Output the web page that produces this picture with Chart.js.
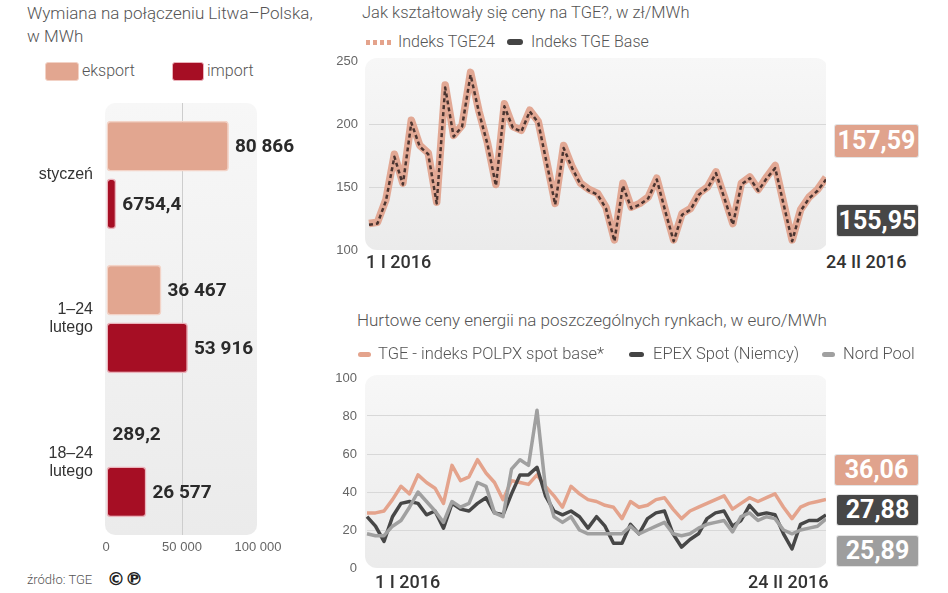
<!DOCTYPE html>
<html lang="pl">
<head>
<meta charset="utf-8">
<script src="https://cdn.jsdelivr.net/npm/chart.js@4.4.1/dist/chart.umd.min.js"></script>
<style>
body{margin:0;background:#fff;font-family:Roboto,"Open Sans",sans-serif;}
#page{position:relative;width:948px;height:593px;overflow:hidden;}
canvas{position:absolute;}
.t{position:absolute;white-space:nowrap;color:#555;font-weight:300;line-height:20px;}
.sw{position:absolute;border-radius:3px;}
.box{position:absolute;color:#fff;font-weight:700;font-size:25px;text-align:center;border-radius:2px;line-height:30px;box-shadow:0 0 0 1px #e4e4e4;}
.day{position:absolute;white-space:nowrap;color:#333;font-weight:500;font-size:18px;line-height:20px;}
</style>
</head>
<body>
<div id="page">
  <!-- left: exchange Lithuania-Poland -->
  <div class="t" style="left:27px;top:3px;font-size:17px">Wymiana na połączeniu Litwa–Polska,</div>
  <div class="t" style="left:27px;top:26px;font-size:17px">w MWh</div>
  <div class="sw" style="left:45px;top:62px;width:32px;height:17px;background:#e2a690;border:1px solid #f2d2c6"></div>
  <div class="t" style="left:82px;top:61px;font-size:16px">eksport</div>
  <div class="sw" style="left:172px;top:62px;width:30px;height:17px;background:#a60e24;border:1px solid #eab2ba"></div>
  <div class="t" style="left:207px;top:61px;font-size:16px">import</div>
  <canvas id="bars" width="310" height="462" style="left:0;top:95px"></canvas>
  <div class="t" style="left:27px;top:570px;font-size:13px">źródło: TGE</div>
  <div class="t" style="left:107px;top:569px;font-size:18px;font-weight:700;color:#222;font-family:'DejaVu Sans'">©℗</div>

  <!-- top right: TGE prices -->
  <div class="t" style="left:362px;top:3px;font-size:16.5px">Jak kształtowały się ceny na TGE?, w zł/MWh</div>
  <div class="sw" style="left:366px;top:40px;width:28px;height:5px;border-radius:0;background:repeating-linear-gradient(90deg,#e4a38c 0 4px,transparent 4px 7px)"></div>
  <div class="t" style="left:398px;top:32px;font-size:16px">Indeks TGE24</div>
  <div class="sw" style="left:507px;top:39px;width:16px;height:6px;background:#444"></div>
  <div class="t" style="left:531px;top:32px;font-size:16px">Indeks TGE Base</div>
  <canvas id="tge" width="496" height="204" style="left:330px;top:50px"></canvas>
  <div class="day" style="left:366px;top:252px">1 I 2016</div>
  <div class="day" style="left:826px;top:252px">24 II 2016</div>
  <div class="box" id="b24" style="left:835px;top:125px;width:83px;height:32px;line-height:32px;background:#e0a38d"></div>
  <div class="box" id="bBase" style="left:837px;top:205px;width:81px;height:31px;line-height:31px;background:#474747"></div>

  <!-- bottom right: wholesale prices -->
  <div class="t" style="left:357px;top:310px;font-size:17px">Hurtowe ceny energii na poszczególnych rynkach, w euro/MWh</div>
  <div class="sw" style="left:358px;top:352px;width:13px;height:5px;background:#e4a38c"></div>
  <div class="t" style="left:378px;top:344px;font-size:16.5px">TGE - indeks POLPX spot base*</div>
  <div class="sw" style="left:629px;top:352px;width:15px;height:5px;background:#444"></div>
  <div class="t" style="left:653px;top:344px;font-size:16.5px">EPEX Spot (Niemcy)</div>
  <div class="sw" style="left:822px;top:352px;width:13px;height:5px;background:#a0a0a0"></div>
  <div class="t" style="left:843px;top:344px;font-size:16.5px">Nord Pool</div>
  <canvas id="euro" width="496" height="211" style="left:330px;top:365px"></canvas>
  <div class="day" style="left:375px;top:572px">1 I 2016</div>
  <div class="day" style="left:748px;top:572px">24 II 2016</div>
  <div class="box" id="bPol" style="left:835px;top:455px;width:83px;height:30px;background:#e0a38d"></div>
  <div class="box" id="bEpex" style="left:837px;top:495px;width:81px;height:30px;background:#474747"></div>
  <div class="box" id="bNord" style="left:837px;top:536px;width:81px;height:30px;background:#9e9e9e"></div>
</div>
<script>
// wymiana Litwa-Polska, MWh
const months = ['styczeń', ['1–24', 'lutego'], ['18–24', 'lutego']];
const eksport = [80866, 36467, 289.2];
const importy = [6754.4, 53916, 26577];
const barTicks = [0, 50000, 100000];

// ceny TGE, zl/MWh, 1 I - 24 II 2016
const tge24 = [121,122,140,176,153,203,183,177,138,231,191,199,241,210,185,152,216,198,195,211,
  202,170,137,183,166,153,148,145,134,108,153,134,137,142,157,132,108,129,133,145,
  150,162,142,121,153,158,148,158,167,137,108,132,142,148,157.59];
const tgeBase = [120,121,139,174,152,201,182,176,137,229,190,198,239,209,184,151,214,197,194,210,
  201,169,136,181,165,152,147,144,133,107,151,133,136,141,156,131,107,128,132,144,
  149,161,141,120,152,157,147,157,165,136,107,131,141,147,155.95];
const tgeTicks = [100, 150, 200, 250];

// ceny hurtowe, euro/MWh
const polpx = [29,29,30,36,43,39,49,45,42,34,54,46,48,57,50,45,36,46,45,44,49,43,38,32,43,39,36,
  35,33,32,26,35,32,33,36,37,31,26,30,32,34,36,38,31,34,37,35,37,39,32,26,32,34,35,36.06];
const epex = [27,22,14,27,34,35,34,28,30,21,34,31,30,34,37,29,28,39,49,49,53,38,30,28,30,27,21,
  27,22,13,13,23,18,26,29,30,18,11,15,18,26,29,30,22,25,33,28,29,28,18,10,23,25,25,27.88];
const nordPool = [18,17,17,22,25,32,40,35,30,24,35,32,34,45,43,29,27,52,57,54,83,42,27,24,27,20,18,
  18,18,18,18,22,18,20,22,24,18,17,18,21,23,24,25,19,27,29,25,27,26,20,18,20,21,22,25.89];
const euroTicks = [0, 20, 40, 60, 80, 100];

const SALMON = '#e2a690', RED = '#a60e24', DARK = '#474747', GREY = '#a0a0a0';

const days = [];
for (let d = new Date(2016, 0, 1); d <= new Date(2016, 1, 24); d.setDate(d.getDate() + 1)) {
  days.push(d.getDate() + '.' + (d.getMonth() + 1));
}

// polish number format: 80 866 / 6754,4
function fmt(v) {
  let [i, d] = String(v).split('.');
  if (i.length > 4) i = i.replace(/\B(?=(\d{3})+(?!\d))/g, ' ');
  return d ? i + ',' + d : i;
}

const bgPlugin = {
  id: 'bg',
  beforeDraw(chart, args, o) {
    const {ctx, chartArea: a} = chart;
    const x = a.left - o.l, y = a.top - o.t, w = a.width + o.l + o.r, h = a.height + o.t;
    const g = ctx.createLinearGradient(0, y, 0, y + h);
    g.addColorStop(0, '#f7f7f7');
    g.addColorStop(1, '#ebebeb');
    ctx.save();
    ctx.fillStyle = g;
    ctx.beginPath();
    ctx.roundRect(x, y, w, h, o.radius);
    ctx.fill();
    ctx.restore();
  }
};

const barValues = {
  id: 'barValues',
  afterDatasetsDraw(chart) {
    const ctx = chart.ctx;
    ctx.save();
    ctx.font = '700 19px Roboto';
    ctx.fillStyle = '#2a2a2a';
    ctx.textBaseline = 'middle';
    chart.data.datasets.forEach((ds, i) => {
      chart.getDatasetMeta(i).data.forEach((bar, j) => {
        ctx.fillText(fmt(ds.data[j]), bar.x + 6, bar.y + 1);
      });
    });
    ctx.restore();
  }
};

const setTicks = arr => s => { s.ticks = arr.map(v => ({value: v})); };
// fixed axis width, no extra label padding, so the plot area sits where the layout padding says
const fixY = w => s => { s.width = w; s.paddingTop = 0; s.paddingBottom = 0; };

new Chart(document.getElementById('bars'), {
  type: 'bar',
  data: {
    labels: months,
    datasets: [
      {label: 'eksport', data: eksport, backgroundColor: SALMON, borderColor: '#f3d3c7', borderWidth: 1.5,
        borderRadius: 4, borderSkipped: false, categoryPercentage: 0.8, barPercentage: 0.88},
      {label: 'import', data: importy, backgroundColor: RED, borderColor: '#ebb3bb', borderWidth: 1.5,
        borderRadius: 4, borderSkipped: false, categoryPercentage: 0.8, barPercentage: 0.88}
    ]
  },
  options: {
    indexAxis: 'y',
    responsive: false,
    animation: false,
    layout: {padding: {top: 8, right: 52, left: 0, bottom: 0}},
    plugins: {
      legend: {display: false},
      tooltip: {enabled: false},
      bg: {l: 1, r: -1, t: 0, radius: 10}
    },
    scales: {
      x: {
        min: 0, max: 100000,
        afterBuildTicks: setTicks(barTicks),
        afterFit: s => { s.height = 22; s.paddingLeft = 0; s.paddingRight = 0; },
        border: {display: false},
        grid: {drawTicks: false, color: c => (c.tick && c.tick.value === 50000) ? '#cdcdcd' : 'transparent'},
        ticks: {padding: 5, color: '#666', font: {size: 13}, callback: v => fmt(v)}
      },
      y: {
        afterFit: fixY(106),
        border: {display: false},
        grid: {display: false, drawTicks: false},
        ticks: {padding: 13, color: '#333', font: {size: 16, lineHeight: 1.12}}
      }
    }
  },
  plugins: [bgPlugin, barValues]
});

new Chart(document.getElementById('tge'), {
  type: 'line',
  data: {
    labels: days,
    datasets: [
      {label: 'Indeks TGE Base', data: tgeBase, borderColor: '#4a3430', borderWidth: 2.5, borderDash: [4, 3], order: 0},
      {label: 'Indeks TGE24', data: tge24, borderColor: 'rgba(224,160,138,0.9)', borderWidth: 7.5, order: 1}
    ]
  },
  options: {
    responsive: false,
    animation: false,
    layout: {padding: {top: 11, bottom: 4, left: 0, right: 0}},
    elements: {point: {radius: 0}, line: {tension: 0, borderJoinStyle: 'round'}},
    plugins: {legend: {display: false}, tooltip: {enabled: false}, bg: {l: 4, r: 2, t: 3, radius: 12}},
    scales: {
      x: {display: false},
      y: {
        min: 100, max: 250,
        afterBuildTicks: setTicks(tgeTicks),
        afterFit: fixY(39),
        border: {display: false},
        grid: {drawTicks: false, color: c => (c.tick.value === 100 || c.tick.value === 250) ? 'transparent' : '#d8d8d8'},
        ticks: {padding: 11, color: '#666', font: {size: 13}}
      }
    }
  },
  plugins: [bgPlugin]
});

new Chart(document.getElementById('euro'), {
  type: 'line',
  data: {
    labels: days,
    datasets: [
      {label: 'Nord Pool', data: nordPool, borderColor: GREY, borderWidth: 3.5, order: 0},
      {label: 'EPEX Spot (Niemcy)', data: epex, borderColor: DARK, borderWidth: 3.5, order: 1},
      {label: 'TGE - indeks POLPX spot base*', data: polpx, borderColor: '#e4a38c', borderWidth: 3.5, order: 2}
    ]
  },
  options: {
    responsive: false,
    animation: false,
    layout: {padding: {top: 13, bottom: 8, left: 0, right: 0}},
    elements: {point: {radius: 0}, line: {tension: 0, borderJoinStyle: 'round'}},
    plugins: {legend: {display: false}, tooltip: {enabled: false}, bg: {l: 2, r: 2, t: 3, radius: 12}},
    scales: {
      x: {display: false},
      y: {
        min: 0, max: 100,
        afterBuildTicks: setTicks(euroTicks),
        afterFit: fixY(37),
        border: {display: false},
        grid: {drawTicks: false, color: c => (c.tick.value === 0 || c.tick.value === 100) ? 'transparent' : '#d8d8d8'},
        ticks: {padding: 10, color: '#666', font: {size: 13}}
      }
    }
  },
  plugins: [bgPlugin]
});

const last = a => fmt(a[a.length - 1]);
document.getElementById('b24').textContent = last(tge24);
document.getElementById('bBase').textContent = last(tgeBase);
document.getElementById('bPol').textContent = last(polpx);
document.getElementById('bEpex').textContent = last(epex);
document.getElementById('bNord').textContent = last(nordPool);
</script>
</body>
</html>
